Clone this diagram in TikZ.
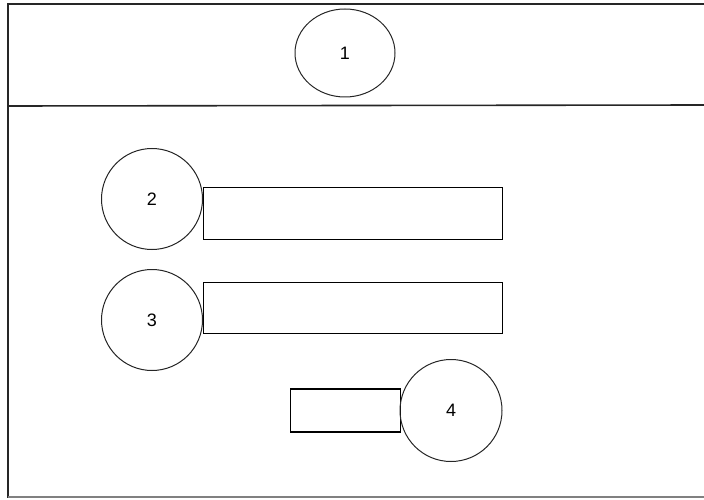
\documentclass[tikz,border=0pt]{standalone}
\usepackage{fontspec}
\setmainfont{Liberation Sans}
\usetikzlibrary{shapes.geometric}
\begin{document}
\begin{tikzpicture}[x=1pt,y=-1pt,
  ring/.style={draw=black!85, line width=1pt, circle, minimum size=101pt, inner sep=0pt, font=\fontsize{18}{18}\selectfont},
  bar/.style={draw=black, line width=1.2pt, rectangle, inner sep=0pt}]
\useasboundingbox (0,0) rectangle (704,500);
% outer frame, open on the right
\draw[line width=1.8pt, black!85] (706,4) -- (8,4) -- (8,498);
\draw[line width=1.2pt, black!50] (8,497) -- (706,497);
% header divider
\draw[line width=1.6pt, black!85] (8,106) -- (706,105);
% header ellipse
\node[draw=black!85, line width=1pt, ellipse, minimum width=100pt, minimum height=88pt, inner sep=0pt, font=\fontsize{18}{18}\selectfont] (e1) at (345,53) {1};
% rows
\node[ring] (c2) at (152,199) {2};
\node[bar, minimum width=299pt, minimum height=52pt, anchor=west] (r2) at (203,213.5) {};
\node[ring] (c3) at (152,320) {3};
\node[bar, minimum width=299pt, minimum height=51pt, anchor=west] (r3) at (203,308) {};
\node[bar, minimum width=110pt, minimum height=43pt, anchor=west] (r4) at (290,410.5) {};
\node[ring, minimum size=102pt] (c4) at (451,410.5) {4};
\end{tikzpicture}
\end{document}
